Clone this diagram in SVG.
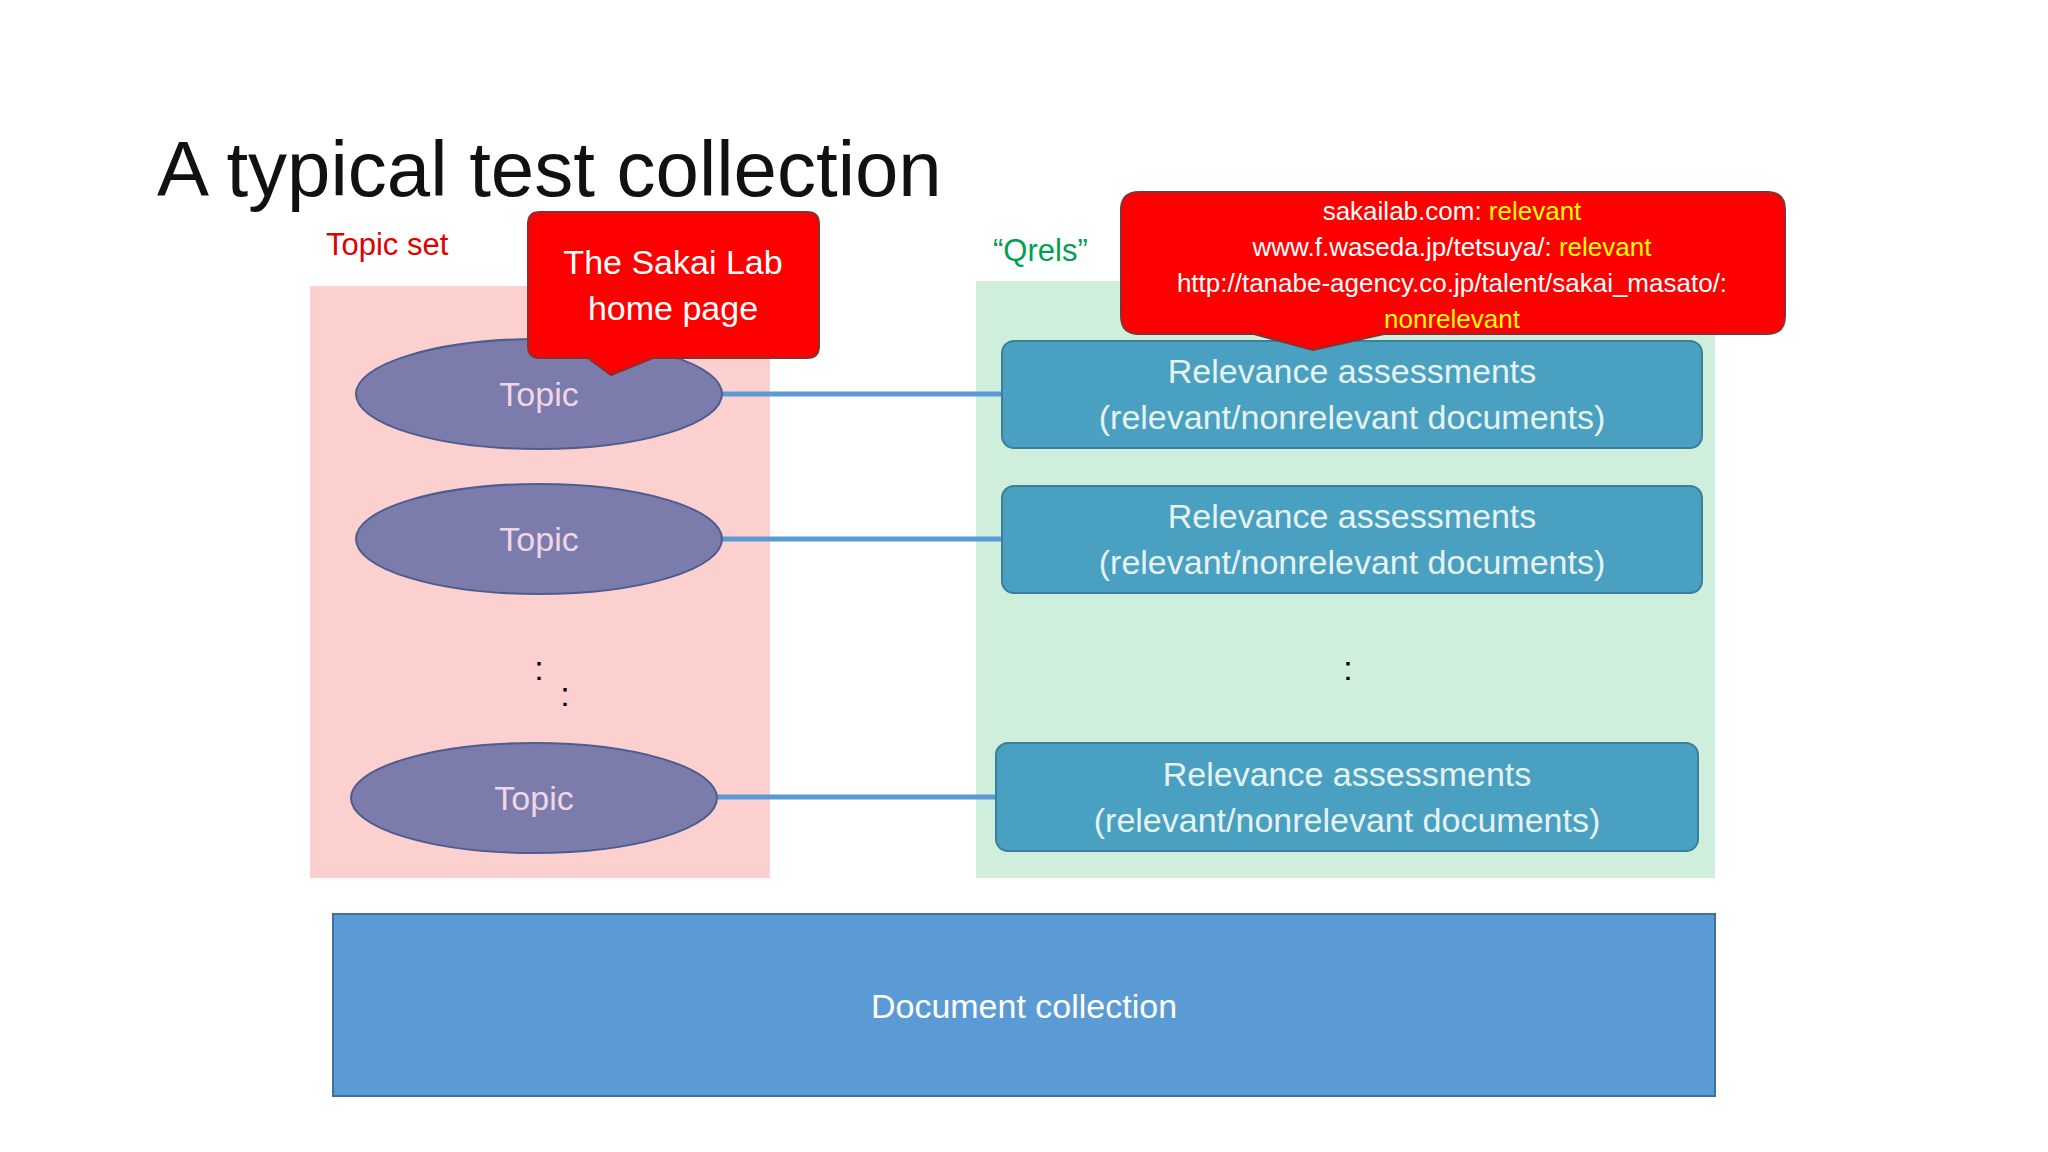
<svg xmlns="http://www.w3.org/2000/svg" width="2048" height="1152" viewBox="0 0 2048 1152">
<style>
text{font-family:"Liberation Sans","Open Sans",sans-serif}
.topic{fill:#7b7bac;stroke:#4d5d8f;stroke-width:2}
.tt{fill:#f0d6e6;font-size:34px;text-anchor:middle}
.rel{fill:#4aa0c0;stroke:#3a7f9c;stroke-width:2}
.rt{fill:#e6f3f3;font-size:34px;text-anchor:middle}
.conn{stroke:#5b9bd5;stroke-width:5}
.call{fill:#ff0000;stroke:#8a3030;stroke-width:2}
.ct{fill:#fff;text-anchor:middle}
.y{fill:#ffff00}
.dot{font-size:34px;fill:#000;text-anchor:middle}
</style>
<rect width="2048" height="1152" fill="#fff"/>
<text x="157" y="196" font-size="78" fill="#111">A typical test collection</text>
<rect x="310" y="286" width="460" height="592" fill="#fdd0d0"/>
<rect x="976" y="281" width="739" height="597" fill="#cfeedc"/>
<text x="326" y="255" font-size="31" fill="#e00000">Topic set</text>
<text x="993" y="261" font-size="31" fill="#00a050">“Qrels”</text>
<g id="connectors">
<line class="conn" x1="721" y1="394" x2="1002" y2="394"/>
<line class="conn" x1="721" y1="539" x2="1002" y2="539"/>
<line class="conn" x1="716" y1="797" x2="996" y2="797"/>
</g>
<g id="topic1"><ellipse class="topic" cx="539" cy="394" rx="183" ry="55"/><text class="tt" x="539" y="406">Topic</text></g>
<g id="topic2"><ellipse class="topic" cx="539" cy="539" rx="183" ry="55"/><text class="tt" x="539" y="551">Topic</text></g>
<g id="topic3"><ellipse class="topic" cx="534" cy="798" rx="183" ry="55"/><text class="tt" x="534" y="810">Topic</text></g>
<text class="dot" x="539" y="680">:</text>
<text class="dot" x="565" y="706">:</text>
<text class="dot" x="1348" y="680">:</text>
<g id="rel1"><rect class="rel" x="1002" y="341" width="700" height="107" rx="12"/><text class="rt" x="1352" y="383">Relevance assessments</text><text class="rt" x="1352" y="429">(relevant/nonrelevant documents)</text></g>
<g id="rel2"><rect class="rel" x="1002" y="486" width="700" height="107" rx="12"/><text class="rt" x="1352" y="528">Relevance assessments</text><text class="rt" x="1352" y="574">(relevant/nonrelevant documents)</text></g>
<g id="rel3"><rect class="rel" x="996" y="743" width="702" height="108" rx="12"/><text class="rt" x="1347" y="786">Relevance assessments</text><text class="rt" x="1347" y="832">(relevant/nonrelevant documents)</text></g>
<g id="doc"><rect x="333" y="914" width="1382" height="182" fill="#5b9bd5" stroke="#41719c" stroke-width="2"/><text x="1024" y="1018" font-size="34" fill="#fff" text-anchor="middle">Document collection</text></g>
<g id="callout1"><path class="call" d="M540,212 H807 Q819,212 819,224 V346 Q819,358 807,358 H653 L611,375 L588,358 H540 Q528,358 528,346 V224 Q528,212 540,212 Z"/>
<text class="ct" x="673" y="274" font-size="34">The Sakai Lab</text><text class="ct" x="673" y="320" font-size="34">home page</text></g>
<g id="callout2"><path class="call" d="M1139,192 H1767 Q1785,192 1785,210 V316 Q1785,334 1767,334 H1384 L1313,350 L1254,334 H1139 Q1121,334 1121,316 V210 Q1121,192 1139,192 Z"/>
<text class="ct" x="1452" y="220" font-size="26">sakailab.com: <tspan class="y">relevant</tspan></text>
<text class="ct" x="1452" y="256" font-size="26">www.f.waseda.jp/tetsuya/: <tspan class="y">relevant</tspan></text>
<text class="ct" x="1452" y="292" font-size="26">http://tanabe-agency.co.jp/talent/sakai_masato/:</text>
<text class="ct y" x="1452" y="328" font-size="26">nonrelevant</text></g>
</svg>
